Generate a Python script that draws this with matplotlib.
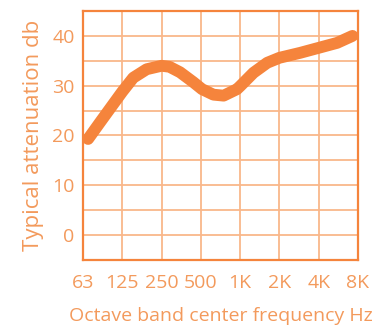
import matplotlib
matplotlib.use("Agg")
import matplotlib.pyplot as plt

# octave band categories and values
bands = ["63", "125", "250", "500", "1K", "2K", "4K", "8K"]
curve_pos = [0.13, 0.43, 0.77, 1.0, 1.28, 1.62, 2.0, 2.2, 2.47, 2.81, 3.03,
             3.32, 3.58, 3.92, 4.0, 4.34, 4.69, 5.0, 5.53, 6.0, 6.47, 6.86]
curve_db = [19.3, 22.6, 26.3, 28.8, 31.6, 33.3, 34.0, 33.8, 32.7, 30.7, 29.3,
            28.2, 28.0, 29.3, 29.9, 32.6, 34.6, 35.6, 36.6, 37.6, 38.6, 40.0]
y_ticks = [0, 10, 20, 30, 40]

line_col = "#f5843c"
grid_col = "#f9b78a"
text_col = "#f39a5c"

plt.rcParams['font.family'] = ['Open Sans', 'DejaVu Sans']

fig = plt.figure(figsize=(3.75, 3.25), dpi=100)
ax = fig.add_axes([0.2213, 0.2, 0.7333, 0.7662])

ax.plot(curve_pos, curve_db, color=line_col, lw=8.5,
        solid_capstyle="round", solid_joinstyle="round", zorder=3)

ax.set_xlim(0, len(bands) - 1)
ax.set_ylim(-5, 45)
ax.set_xticks(range(len(bands)))
ax.set_xticklabels(bands)
ax.set_yticks(y_ticks)
ax.set_yticks([-5, 5, 15, 25, 35, 45], minor=True)
ax.grid(True, which="both", color=grid_col, lw=1.3)
ax.tick_params(which="both", length=0, labelsize=14, colors=text_col)
ax.tick_params(axis="x", pad=10)
ax.tick_params(axis="y", pad=6)

for s in ax.spines.values():
    s.set_color(line_col)
    s.set_linewidth(1.6)

ax.set_xlabel("Octave band center frequency Hz", color=text_col, fontsize=14, labelpad=11)
ax.set_ylabel("Typical attenuation db", color=text_col, fontsize=16, labelpad=6)

fig.savefig("out.png", dpi=100)
